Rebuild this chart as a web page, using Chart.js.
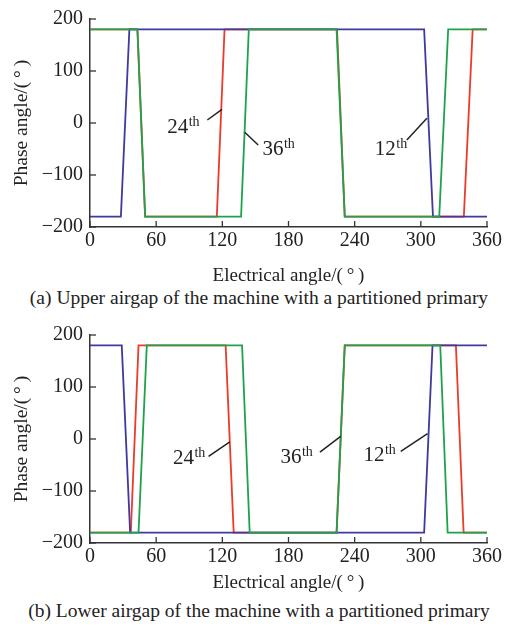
<!DOCTYPE html>
<html><head><meta charset="utf-8">
<script src="https://cdn.jsdelivr.net/npm/chart.js@4.4.0/dist/chart.umd.min.js"></script>
<style>
body{margin:0;background:#fff;width:516px;height:631px;position:relative;overflow:hidden;font-family:"Liberation Serif",serif;}
canvas{position:absolute;left:0;}
.cap{position:absolute;left:0;width:516px;text-align:center;font-size:19.5px;color:#222;line-height:20px;white-space:nowrap;}
</style></head><body>
<canvas id="c1" width="516" height="287" style="top:0"></canvas>
<div class="cap" style="top:288px;left:1px">(a) Upper airgap of the machine with a partitioned primary</div>
<canvas id="c2" width="516" height="278" style="top:316px"></canvas>
<div class="cap" style="top:601px;left:1px">(b) Lower airgap of the machine with a partitioned primary</div>
<script>
// ---- data ----
const xTitle = 'Electrical angle/(\u2009°\u2009)';
const yTitle = 'Phase angle/(\u2009°\u2009)';
const harmonicNames = ['12th', '24th', '36th'];

// Upper airgap
const upper12x = [0, 28, 35.7, 303, 311, 360];
const upper12y = [-180, -180, 180, 180, -180, -180];
const upper24x = [0, 43, 50, 115, 122, 224, 231, 339, 347, 360];
const upper24y = [180, 180, -180, -180, 180, 180, -180, -180, 180, 180];
const upper36x = [0, 43, 50, 137, 144, 223.6, 231, 316.7, 324.8, 360];
const upper36y = [180, 180, -180, -180, 180, 180, -180, -180, 180, 180];

// Lower airgap
const lower12x = [0, 28.8, 36.4, 303, 310.6, 360];
const lower12y = [180, 180, -180, -180, 180, 180];
const lower24x = [0, 37, 44, 123, 130.3, 223.6, 231, 331.8, 338.8, 360];
const lower24y = [-180, -180, 180, 180, -180, -180, 180, 180, -180, -180];
const lower36x = [0, 44, 51.5, 137.9, 144.8, 223.6, 231, 317.6, 324.3, 360];
const lower36y = [-180, -180, 180, 180, -180, -180, 180, 180, -180, -180];

// Annotation labels (number + superscript), in data coordinates: [12th, 24th, 36th]
const labelNums = ['12', '24', '36'];
const upperTextX = [258.2, 70, 156.4];
const upperTextY = [-61.5, -19, -61.5];
const upperLeadX1 = [287.3, 106.4, 140.3];
const upperLeadY1 = [-32.7, 5.8, -17.9];
const upperLeadX2 = [305.5, 119.7, 152.5];
const upperLeadY2 = [9.0, 26.3, -42.3];

const lowerTextX = [247.9, 75.2, 172.7];
const lowerTextY = [-43, -49, -46.4];
const lowerLeadX1 = [281.8, 107.5, 208.5];
const lowerLeadY1 = [-23.8, -33.5, -25.1];
const lowerLeadX2 = [306.1, 126.8, 227.3];
const lowerLeadY2 = [10.4, -5.4, 5.2];

// ---- styles ----
const colors = ['#3f3a9c', '#ec3b2c', '#1ea34c'];
const FONT = '"Liberation Serif", "Times New Roman", serif';
const INK = '#222';

function pts(xs, ys) { return xs.map((x, i) => ({x: x, y: ys[i]})); }

function makeChart(id, series, ann, xHeight) {
  const annPlugin = {
    id: 'ann',
    afterDraw(chart) {
      const ctx = chart.ctx, xs = chart.scales.x, ys = chart.scales.y;
      ctx.save();
      // inward ticks
      ctx.strokeStyle = '#333'; ctx.lineWidth = 1.3;
      xs.ticks.forEach(t => {
        const px = xs.getPixelForValue(t.value);
        ctx.beginPath(); ctx.moveTo(px, ys.bottom); ctx.lineTo(px, ys.bottom - 6); ctx.stroke();
      });
      ys.ticks.forEach(t => {
        const py = ys.getPixelForValue(t.value);
        ctx.beginPath(); ctx.moveTo(xs.left, py); ctx.lineTo(xs.left + 6, py); ctx.stroke();
      });
      // annotation labels
      ctx.strokeStyle = INK; ctx.lineWidth = 1.5; ctx.fillStyle = INK;
      ctx.textBaseline = 'alphabetic'; ctx.textAlign = 'left';
      for (let i = 0; i < labelNums.length; i++) {
        ctx.beginPath();
        ctx.moveTo(xs.getPixelForValue(ann.lx1[i]), ys.getPixelForValue(ann.ly1[i]));
        ctx.lineTo(xs.getPixelForValue(ann.lx2[i]), ys.getPixelForValue(ann.ly2[i]));
        ctx.stroke();
        const tx = xs.getPixelForValue(ann.tx[i]), ty = ys.getPixelForValue(ann.ty[i]);
        ctx.font = '21px ' + FONT;
        ctx.fillText(labelNums[i], tx, ty);
        const w = ctx.measureText(labelNums[i]).width;
        ctx.font = '14px ' + FONT;
        ctx.fillText('th', tx + w + 0.5, ty - 7);
      }
      ctx.restore();
    }
  };
  return new Chart(document.getElementById(id), {
    type: 'line',
    data: {
      datasets: series.map((s, i) => ({
        label: harmonicNames[s.k],
        data: pts(s.x, s.y),
        borderColor: colors[s.k],
        backgroundColor: colors[s.k],
        borderWidth: 1.8,
        pointRadius: 0,
        tension: 0,
        fill: false,
        order: s.order
      }))
    },
    options: {
      responsive: false,
      animation: false,
      devicePixelRatio: 1,
      layout: {padding: {top: 19, right: 29, left: 0, bottom: 0}},
      plugins: {legend: {display: false}, tooltip: {enabled: false}},
      scales: {
        x: {
          type: 'linear', min: 0, max: 360,
          afterFit(s) { s.height = xHeight; },
          ticks: {stepSize: 60, color: INK, font: {family: FONT, size: 20}, padding: 2, maxRotation: 0},
          grid: {display: true, drawOnChartArea: false, drawTicks: false, tickLength: 0},
          border: {display: true, color: '#333', width: 1.5},
          title: {display: true, text: xTitle, color: INK, font: {family: FONT, size: 19}, padding: {top: 0, bottom: 0}}
        },
        y: {
          type: 'linear', min: -200, max: 200,
          afterFit(s) { s.width = 90; },
          ticks: {stepSize: 100, color: INK, font: {family: FONT, size: 20}, padding: 7,
                  callback: v => String(v).replace('-', '\u2212')},
          grid: {display: true, drawOnChartArea: false, drawTicks: false, tickLength: 0},
          border: {display: true, color: '#333', width: 1.5},
          title: {display: true, text: yTitle, color: INK, font: {family: FONT, size: 19.5}, padding: {top: 10, bottom: 0}}
        }
      }
    },
    plugins: [annPlugin]
  });
}

makeChart('c1', [
  {k: 2, x: upper36x, y: upper36y, order: 0},
  {k: 0, x: upper12x, y: upper12y, order: 1},
  {k: 1, x: upper24x, y: upper24y, order: 2}
], {tx: upperTextX, ty: upperTextY, lx1: upperLeadX1, ly1: upperLeadY1, lx2: upperLeadX2, ly2: upperLeadY2}, 60);

makeChart('c2', [
  {k: 2, x: lower36x, y: lower36y, order: 0},
  {k: 0, x: lower12x, y: lower12y, order: 1},
  {k: 1, x: lower24x, y: lower24y, order: 2}
], {tx: lowerTextX, ty: lowerTextY, lx1: lowerLeadX1, ly1: lowerLeadY1, lx2: lowerLeadX2, ly2: lowerLeadY2}, 51);
</script>
</body></html>
